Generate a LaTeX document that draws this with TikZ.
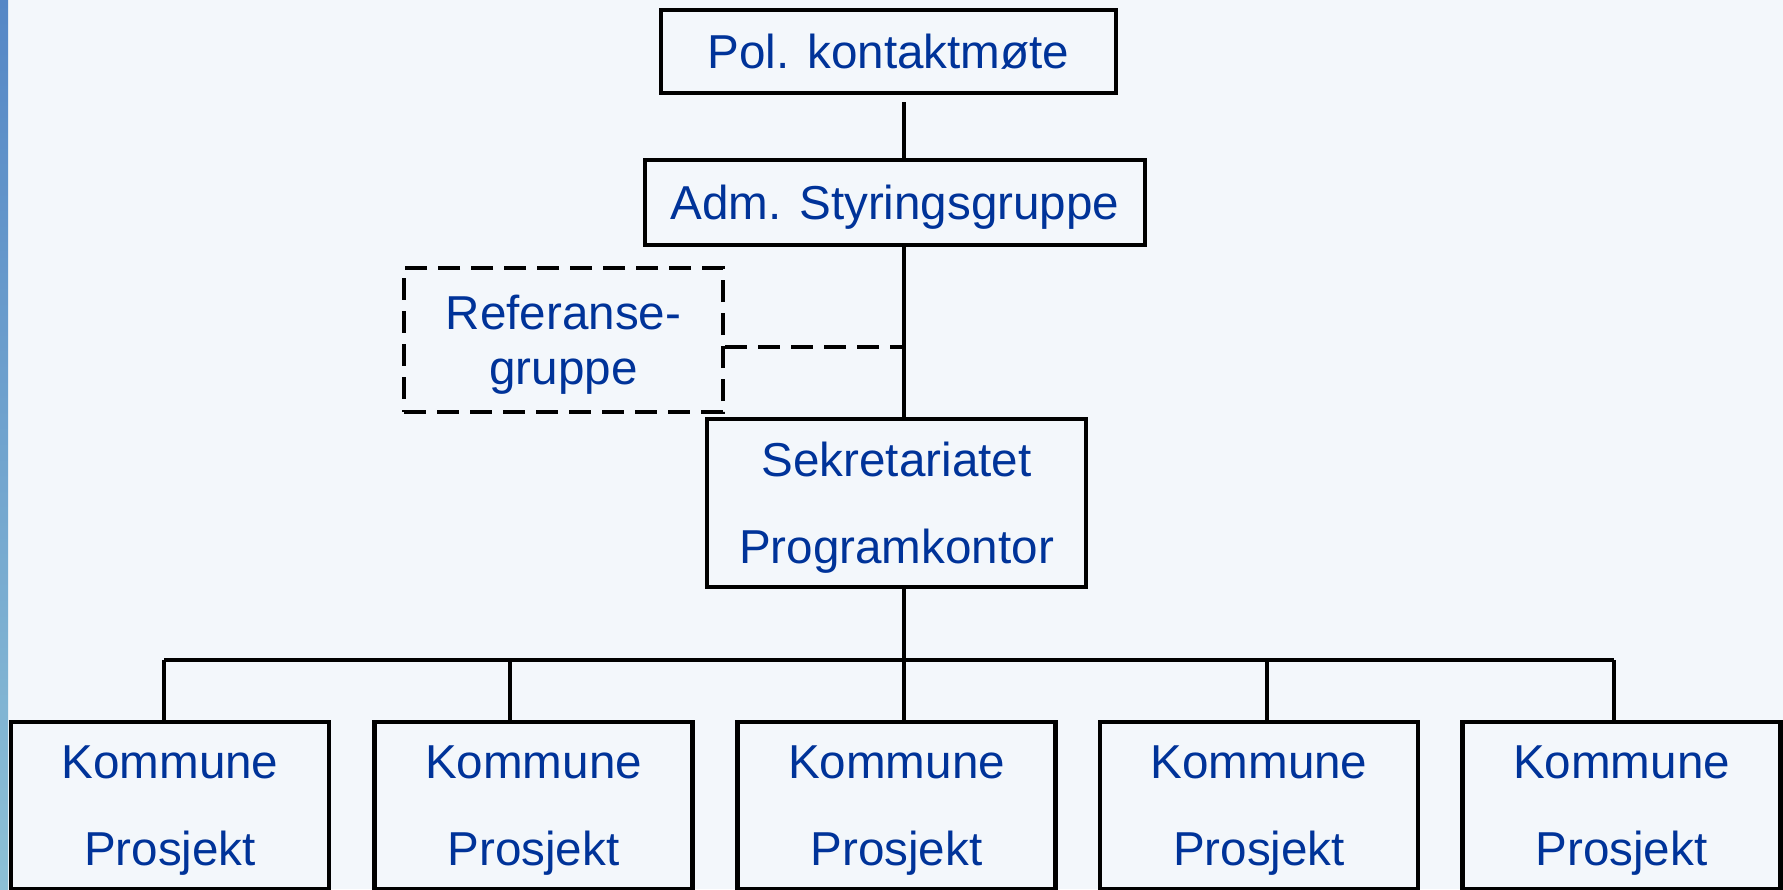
\documentclass[tikz,border=0pt]{standalone}
\usepackage{fontspec}
\setmainfont{Liberation Sans}
\definecolor{txt}{RGB}{0,51,153}
\definecolor{bg}{RGB}{243,247,251}
\definecolor{stripTop}{RGB}{85,135,198}
\definecolor{stripBot}{RGB}{140,192,214}
\tikzset{
  box/.style={draw=black, line width=2.2pt, text=txt, align=center, inner sep=0pt,
    text depth=0pt, font=\fontsize{23.8}{43.5}\selectfont},
  refbox/.style={box, dash pattern=on 11pt off 5.5pt, font=\fontsize{23.8}{27.3}\selectfont},
  kbox/.style={box, minimum width=159pt, minimum height=83.5pt},
  conn/.style={line width=2.2pt},
  dconn/.style={line width=2.2pt, dash pattern=on 11pt off 5.5pt}
}
\begin{document}
\begin{tikzpicture}[x=0.5pt,y=-0.5pt]
\useasboundingbox (0,0) rectangle (1783,889);
\fill[bg] (0,0) rectangle (1783,889);
\shade[top color=stripTop,bottom color=stripBot] (0,0) rectangle (8,889);

\node[box, minimum width=227.5pt, minimum height=41.5pt] (pol) at (888.5,51.5) {Pol. kontaktmøte};
\node[box, minimum width=250pt, minimum height=42.5pt] (adm) at (895,202.5) {Adm. Styringsgruppe};
\node[refbox, minimum width=159.5pt, minimum height=72pt] (ref) at (563.5,340) {Referanse-\\gruppe};
\node[box, minimum width=189.5pt, minimum height=84pt] (sek) at (896.5,503) {Sekretariatet\\Programkontor};

\node[kbox] (k1) at (170,805.5) {Kommune\\Prosjekt};
\node[kbox] (k2) at (533.5,805.5) {Kommune\\Prosjekt};
\node[kbox] (k3) at (896.5,805.5) {Kommune\\Prosjekt};
\node[kbox] (k4) at (1259,805.5) {Kommune\\Prosjekt};
\node[kbox] (k5) at (1621.5,805.5) {Kommune\\Prosjekt};

\coordinate (a1) at (904,102);
\coordinate (r1) at (904,347);
\coordinate (d1) at (164,660);
\coordinate (d2) at (510,660);
\coordinate (d3) at (904,660);
\coordinate (d4) at (1267,660);
\coordinate (d5) at (1614,660);

\draw[conn] (a1) -- (a1 |- adm.north);
\draw[conn] (adm.south -| a1) -- (sek.north -| a1);
\draw[dconn] (ref.east |- r1) -- (r1);
\draw[conn] (sek.south -| a1) -- (d3);
\draw[conn] (d1) -- (d5);
\foreach \i in {1,...,5}{
  \draw[conn] (d\i) -- (d\i |- k\i.north);
}
\end{tikzpicture}
\end{document}
